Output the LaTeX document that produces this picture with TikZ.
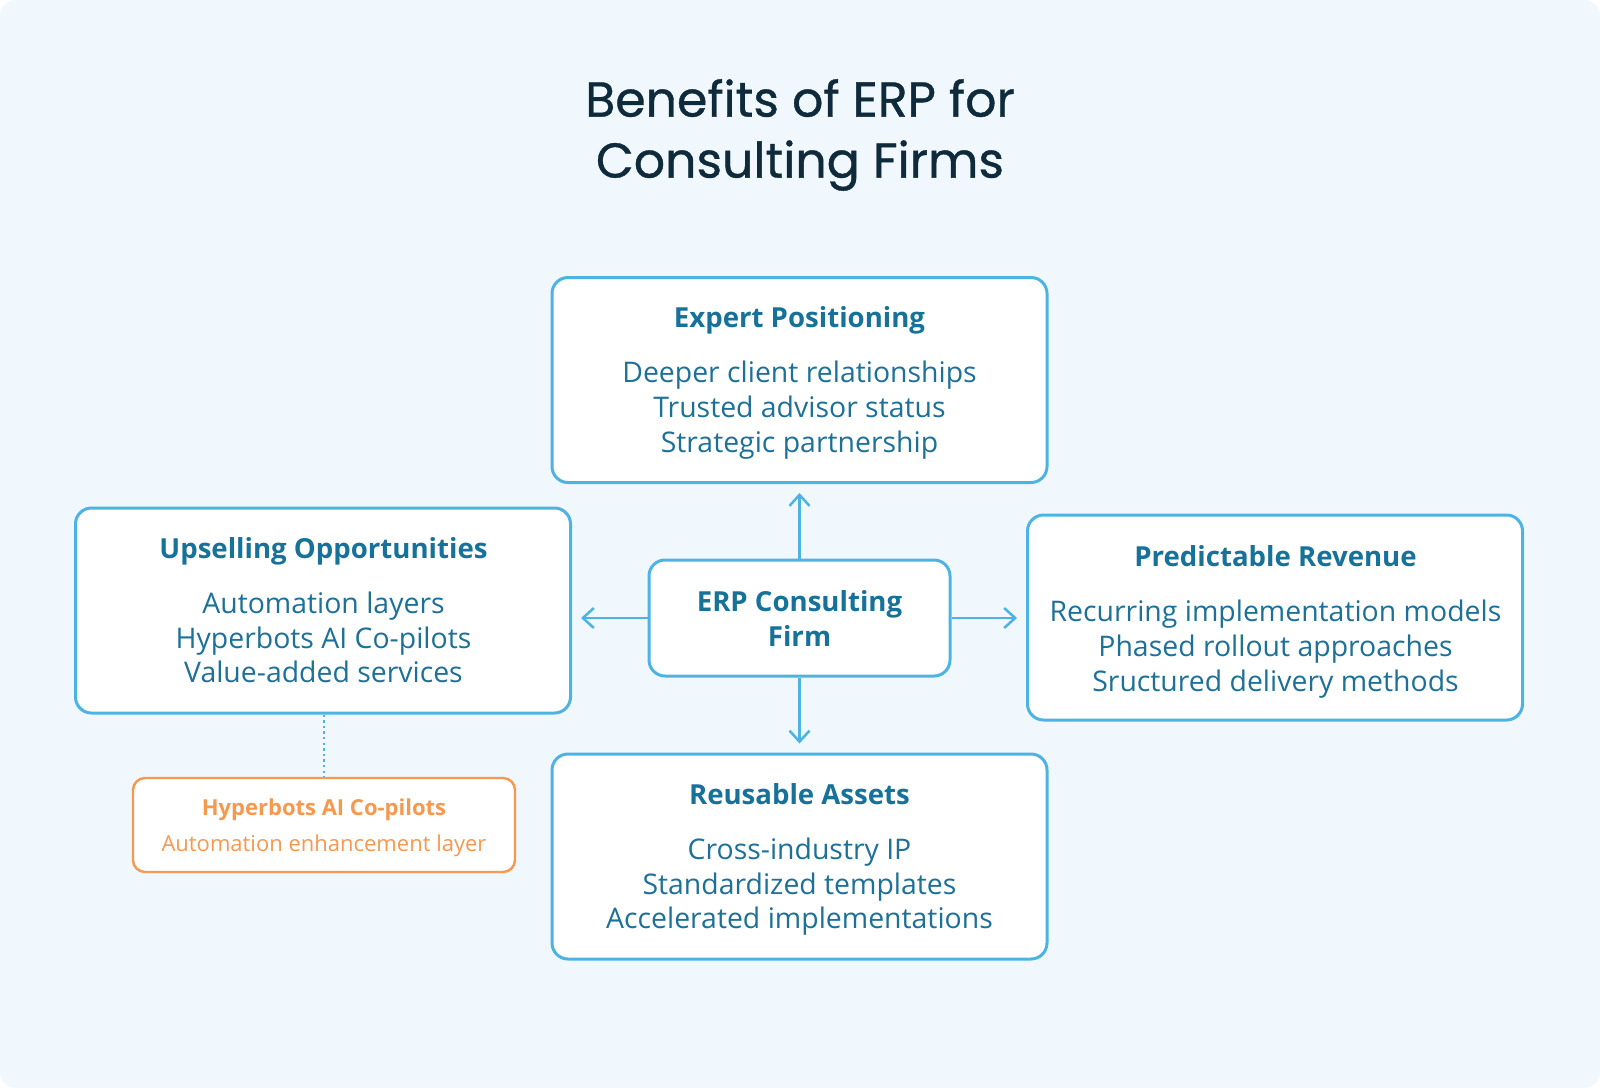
\documentclass[tikz,border=0pt]{standalone}
\usepackage{fontspec}
\setmainfont{Open Sans}
\newfontfamily\titlefont[FakeBold=0.8]{Poppins}
\usetikzlibrary{arrows.meta}
\definecolor{bgc}{HTML}{F0F8FE}
\definecolor{edgec}{HTML}{4DB3E2}
\definecolor{headc}{HTML}{17729A}
\definecolor{bodyc}{HTML}{1D7098}
\definecolor{titlec}{HTML}{0F2B3B}
\definecolor{orangec}{HTML}{F7984F}
\tikzset{
  card/.style={draw=edgec, line width=1.5pt, fill=white, rounded corners=8pt, minimum width=247.5pt, minimum height=102.5pt, inner sep=0pt},
  hubbox/.style={draw=edgec, line width=1.5pt, fill=white, rounded corners=8pt, minimum width=150.5pt, minimum height=58pt, inner sep=0pt},
  notebox/.style={draw=orangec, line width=1.2pt, fill=white, rounded corners=6pt, minimum width=191pt, minimum height=47pt, inner sep=0pt},
  headtxt/.style={text=headc, font=\fontsize{13.8}{17}\selectfont\bfseries, inner sep=0pt, anchor=base, yshift=-5pt},
  bodytxt/.style={text=bodyc, font=\fontsize{14.2}{17.5}\selectfont, inner sep=0pt, anchor=base, yshift=-5.2pt},
  notehead/.style={text=orangec, font=\fontsize{11}{13}\selectfont\bfseries, inner sep=0pt, anchor=base, yshift=-4pt},
  notebody/.style={text=orangec, font=\fontsize{11}{13}\selectfont, inner sep=0pt, anchor=base, yshift=-4pt},
  link/.style={draw=edgec, line width=1.25pt, -{Straight Barb[length=5.5pt,width=10pt,line width=1.25pt]}, shorten >=4.5pt},
}
\begin{document}
\begin{tikzpicture}[x=0.5pt,y=-0.5pt]
\useasboundingbox (0,0) rectangle (1600,1088);
\fill[white] (0,0) rectangle (1600,1088);
\fill[bgc, rounded corners=8pt] (0,0) rectangle (1600,1088);

% title
\node[text=titlec, font=\titlefont\fontsize{24.5}{30.5}\selectfont, align=center, inner sep=0pt] (title) at (800,135) {Benefits of ERP for\\Consulting Firms};

% boxes
\node[card] (top) at (799.5,380) {};
\node[card] (left) at (323,610.5) {};
\node[card] (right) at (1275,617.5) {};
\node[card] (bottom) at (799.5,856.5) {};
\node[hubbox] (hub) at (799.5,618) {};
\node[notebox] (note) at (324,825) {};

% connectors
\draw[link] (hub.north) -- (hub.north |- top.south);
\draw[link] (hub.south) -- (hub.south |- bottom.north);
\draw[link] (hub.west) -- (hub.west -| left.east);
\draw[link] (hub.east) -- (hub.east -| right.west);
\draw[draw=edgec, line width=1.3pt, dash pattern=on 1.2pt off 1.6pt] (note.north |- left.south) -- (note.north);

% texts: top
\node[headtxt] (t0) at (799.5,317) {Expert Positioning};
\node[bodytxt] (t1) at (799.5,372) {Deeper client relationships};
\node[bodytxt] (t2) at (799.5,407) {Trusted advisor status};
\node[bodytxt] (t3) at (799.5,442) {Strategic partnership};
% left
\node[headtxt] (l0) at (323.5,548) {Upselling Opportunities};
\node[bodytxt] (l1) at (323.5,603) {Automation layers};
\node[bodytxt] (l2) at (323.5,638) {Hyperbots AI Co-pilots};
\node[bodytxt] (l3) at (323.5,672.5) {Value-added services};
% right
\node[headtxt] (r0) at (1275.5,556) {Predictable Revenue};
\node[bodytxt] (r1) at (1275.5,611) {Recurring implementation models};
\node[bodytxt] (r2) at (1275.5,646) {Phased rollout approaches};
\node[bodytxt] (r3) at (1275.5,681) {Sructured delivery methods};
% bottom
\node[headtxt] (b0) at (799.5,794) {Reusable Assets};
\node[bodytxt] (b1) at (799.5,849) {Cross-industry IP};
\node[bodytxt] (b2) at (799.5,884) {Standardized templates};
\node[bodytxt] (b3) at (799.5,918) {Accelerated implementations};
% hub
\node[headtxt] (h0) at (799.5,601) {ERP Consulting};
\node[headtxt] (h1) at (799.5,636) {Firm};
% note
\node[notehead] (n0) at (324,807) {Hyperbots AI Co-pilots};
\node[notebody] (n1) at (324,843) {Automation enhancement layer};
\end{tikzpicture}
\end{document}
